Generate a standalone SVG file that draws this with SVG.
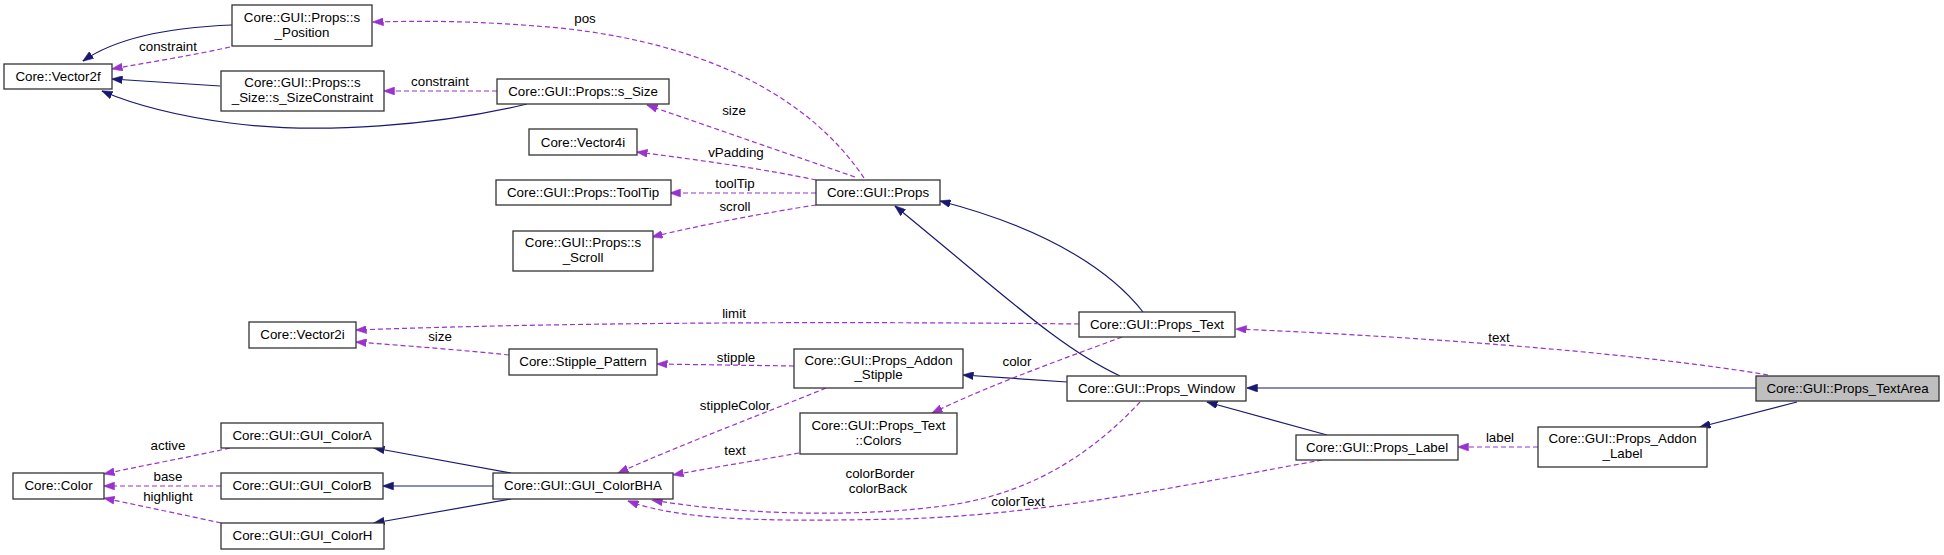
<svg xmlns="http://www.w3.org/2000/svg" width="1944" height="555" viewBox="0 0 1944 555">
<defs>
<style>
.n rect{fill:#ffffff;stroke:#333333;stroke-width:1.3}
.n.hl rect{fill:#bfbfbf}
.n text,.lbl{font-family:"Liberation Sans",Arial,sans-serif;font-size:13.33px;fill:#000;text-anchor:middle}
.inh{fill:none;stroke:#191970;stroke-width:1.2;marker-end:url(#ah)}
.use{fill:none;stroke:#9a32cd;stroke-width:1.2;stroke-dasharray:5,3;marker-end:url(#ap)}
</style>
<marker id="ah" markerUnits="userSpaceOnUse" viewBox="0 0 11 8" refX="10.5" refY="4" markerWidth="11" markerHeight="8" orient="auto"><path d="M0,0 L11,4 L0,8 z" fill="#191970" stroke="#191970" stroke-width="0.5"/></marker>
<marker id="ap" markerUnits="userSpaceOnUse" viewBox="0 0 11 8" refX="10.5" refY="4" markerWidth="11" markerHeight="8" orient="auto"><path d="M0,0 L11,4 L0,8 z" fill="#9a32cd" stroke="#9a32cd" stroke-width="0.5"/></marker>
</defs>
<rect x="0" y="0" width="1944" height="555" fill="#ffffff"/>
<g id="edges">
<path class="inh" d="M232,25 C180,27 120,35 83,61"/>
<path class="use" d="M230,47 C190,56 150,62 112,69"/>
<path class="inh" d="M220,86 L112,79"/>
<path class="inh" d="M527,104 C440,125 320,135 230,123 C170,115 130,103 102,91"/>
<path class="use" d="M497,91 L384,91"/>
<path class="use" d="M864,178 C815,105 720,45 560,28 C470,20 420,21 373,22"/>
<path class="use" d="M855,177 L647,105"/>
<path class="use" d="M816,180 C770,170 700,160 637,152"/>
<path class="use" d="M816,193 L670,193"/>
<path class="use" d="M816,205 C770,212 700,225 652,237"/>
<path class="inh" d="M1143,312 C1115,276 1056,231 940,201"/>
<path class="inh" d="M1120,376 C1060,348 1010,300 895,206"/>
<path class="inh" d="M1067,382 L963,375"/>
<path class="inh" d="M1327,435 L1207,402"/>
<path class="inh" d="M1756,388 L1247,388"/>
<path class="inh" d="M1797,402 L1700,427"/>
<path class="inh" d="M511,473 L374,448"/>
<path class="inh" d="M493,486 L383,486"/>
<path class="inh" d="M511,499 L374,523"/>
<path class="use" d="M230,448 C185,458 145,465 104,474"/>
<path class="use" d="M221,486 L104,486"/>
<path class="use" d="M221,523 C185,515 145,507 104,498"/>
<path class="use" d="M1079,324 C900,322 600,321 356,330"/>
<path class="use" d="M509,355 C460,350 410,346 356,342"/>
<path class="use" d="M794,366 L657,364"/>
<path class="use" d="M1122,337 C1060,360 990,385 932,413"/>
<path class="use" d="M826,388 C760,415 680,445 618,473"/>
<path class="use" d="M799,453 C760,460 715,467 673,475"/>
<path class="use" d="M1140,402 C1100,445 1040,492 950,505 C860,518 740,515 652,500"/>
<path class="use" d="M1322,460 C1200,482 1050,515 900,519 C760,522 680,520 628,501"/>
<path class="use" d="M1538,447 L1458,447"/>
<path class="use" d="M1768,375 C1650,355 1450,338 1236,329"/>
</g>
<g id="edge-labels">
<text class="lbl" x="168" y="51">constraint</text>
<text class="lbl" x="440" y="86">constraint</text>
<text class="lbl" x="585" y="23">pos</text>
<text class="lbl" x="734" y="115">size</text>
<text class="lbl" x="736" y="157">vPadding</text>
<text class="lbl" x="735" y="188">toolTip</text>
<text class="lbl" x="735" y="211">scroll</text>
<text class="lbl" x="734" y="318">limit</text>
<text class="lbl" x="440" y="341">size</text>
<text class="lbl" x="736" y="362">stipple</text>
<text class="lbl" x="1017" y="366">color</text>
<text class="lbl" x="735" y="410">stippleColor</text>
<text class="lbl" x="735" y="455">text</text>
<text class="lbl" x="880" y="478">colorBorder</text>
<text class="lbl" x="878" y="493">colorBack</text>
<text class="lbl" x="1018" y="506">colorText</text>
<text class="lbl" x="1500" y="442">label</text>
<text class="lbl" x="1499" y="342">text</text>
<text class="lbl" x="168" y="450">active</text>
<text class="lbl" x="168" y="481">base</text>
<text class="lbl" x="168" y="501">highlight</text>
</g>
<g id="n_vector2f" class="n"><rect x="4" y="64" width="108" height="25"/><text x="58" y="81">Core::Vector2f</text></g>
<g id="n_sposition" class="n"><rect x="232" y="5" width="140" height="41"/><text x="302" y="21.5">Core::GUI::Props::s</text><text x="302" y="36.5">_Position</text></g>
<g id="n_ssizeconstraint" class="n"><rect x="221" y="71" width="163" height="40"/><text x="302.5" y="87">Core::GUI::Props::s</text><text x="302.5" y="102">_Size::s_SizeConstraint</text></g>
<g id="n_ssize" class="n"><rect x="497" y="79" width="172" height="25"/><text x="583" y="96">Core::GUI::Props::s_Size</text></g>
<g id="n_vector4i" class="n"><rect x="529" y="129" width="108" height="26"/><text x="583" y="146.5">Core::Vector4i</text></g>
<g id="n_tooltip" class="n"><rect x="496" y="180" width="175" height="25"/><text x="583" y="197">Core::GUI::Props::ToolTip</text></g>
<g id="n_sscroll" class="n"><rect x="513" y="231" width="140" height="40"/><text x="583" y="247">Core::GUI::Props::s</text><text x="583" y="262">_Scroll</text></g>
<g id="n_props" class="n"><rect x="816" y="180" width="124" height="25"/><text x="878" y="197">Core::GUI::Props</text></g>
<g id="n_vector2i" class="n"><rect x="249" y="322" width="107" height="26"/><text x="302.5" y="339">Core::Vector2i</text></g>
<g id="n_stipplepattern" class="n"><rect x="509" y="349" width="148" height="26"/><text x="583" y="366">Core::Stipple_Pattern</text></g>
<g id="n_colora" class="n"><rect x="221" y="423" width="162" height="25"/><text x="302" y="440">Core::GUI::GUI_ColorA</text></g>
<g id="n_color" class="n"><rect x="13" y="473" width="91" height="26"/><text x="58.5" y="490">Core::Color</text></g>
<g id="n_colorb" class="n"><rect x="221" y="473" width="162" height="26"/><text x="302" y="490">Core::GUI::GUI_ColorB</text></g>
<g id="n_colorh" class="n"><rect x="221" y="523" width="163" height="26"/><text x="302.5" y="540">Core::GUI::GUI_ColorH</text></g>
<g id="n_colorbha" class="n"><rect x="493" y="473" width="180" height="26"/><text x="583" y="490">Core::GUI::GUI_ColorBHA</text></g>
<g id="n_addonstipple" class="n"><rect x="794" y="349" width="169" height="39"/><text x="878.5" y="364.5">Core::GUI::Props_Addon</text><text x="878.5" y="379">_Stipple</text></g>
<g id="n_textcolors" class="n"><rect x="800" y="413" width="157" height="41"/><text x="878.5" y="430">Core::GUI::Props_Text</text><text x="878.5" y="445">::Colors</text></g>
<g id="n_propstext" class="n"><rect x="1079" y="312" width="156" height="25"/><text x="1157" y="329">Core::GUI::Props_Text</text></g>
<g id="n_propswindow" class="n"><rect x="1067" y="376" width="179" height="25"/><text x="1156.5" y="393">Core::GUI::Props_Window</text></g>
<g id="n_propslabel" class="n"><rect x="1296" y="435" width="162" height="25"/><text x="1377" y="452">Core::GUI::Props_Label</text></g>
<g id="n_addonlabel" class="n"><rect x="1538" y="427" width="169" height="40"/><text x="1622.5" y="443">Core::GUI::Props_Addon</text><text x="1622.5" y="458">_Label</text></g>
<g id="n_textarea" class="n hl"><rect x="1756" y="376" width="183" height="25"/><text x="1847.5" y="393">Core::GUI::Props_TextArea</text></g>
</svg>
